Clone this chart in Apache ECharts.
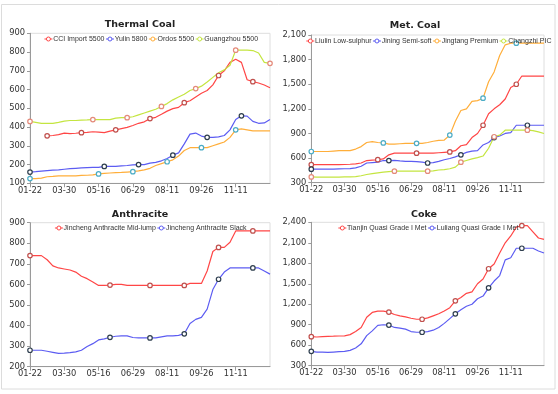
<!DOCTYPE html>
<html><head><meta charset="utf-8">
<script src="https://cdn.jsdelivr.net/npm/echarts@6/dist/echarts.min.js"></script>
<style>html,body{margin:0;padding:0;background:#fff}#c{width:558px;height:394px}</style>
</head><body><div id="c"></div>
<script>
// ---- categories (x axis) ----
const dates = ['01-22','02-02','02-13','02-24','03-08','03-19','03-30','04-07','04-15','04-23','05-01','05-08','05-16','05-23','05-30','06-07','06-14','06-22','06-29','07-06','07-13','07-20','07-28','08-04','08-11','08-19','08-26','09-03','09-11','09-18','09-26','10-04','10-11','10-19','10-27','11-03','11-11','11-18','11-25','12-02','12-09','12-16','12-23'];

// ---- Thermal Coal ----
const cciImport5500 = [null,null,null,353,355,360,368,365,367,370,372,375,373,370,378,385,392,398,408,420,428,445,452,468,485,498,505,530,540,560,580,595,625,675,700,745,762,745,652,642,635,624,610];
const yulin5800 = [160,162,165,168,170,172,175,178,180,182,184,185,185,190,190,190,193,195,198,200,200,208,212,220,232,250,262,310,362,368,352,345,345,348,355,385,440,460,458,430,420,422,440];
const ordos5500 = [125,125,128,135,137,140,140,140,140,142,143,145,150,153,155,157,158,160,162,166,172,180,195,205,215,225,245,275,290,290,290,290,300,310,320,345,385,390,385,380,380,380,380];
const guangzhou5500 = [430,425,420,420,420,425,432,435,435,437,438,440,440,440,440,448,450,450,455,465,475,485,495,510,525,545,560,575,595,605,618,640,665,690,705,730,810,810,810,808,795,745,740];

// ---- Met. Coal ----
const liulinLowSulphur = [520,520,520,520,520,520,522,525,530,540,570,575,580,590,640,660,660,660,660,660,660,660,660,665,670,675,690,750,765,850,900,1000,1140,1200,1250,1320,1460,1500,1600,1600,1600,1600,1600];
const jiningSemiSoft = [465,465,465,465,465,468,470,472,480,500,540,545,550,570,570,572,565,560,560,558,550,540,545,560,580,595,615,640,670,685,690,760,790,850,870,900,910,1000,1000,1000,1000,1000,1000];
const jingtangPremium = [680,680,680,680,685,690,690,690,710,740,790,800,790,785,770,770,775,780,780,780,780,790,805,815,820,880,1050,1180,1200,1290,1300,1330,1530,1650,1850,1980,2000,2000,2000,2000,2000,2000,2000];
const changzhiPIC = [370,368,368,368,368,368,370,372,375,385,400,410,420,428,435,440,440,440,440,440,440,440,445,455,460,470,490,550,570,590,605,625,720,860,880,940,940,940,940,940,935,920,900];

// ---- Anthracite ----
const jinchengMidLump = [740,740,740,720,690,680,675,670,660,640,628,612,595,595,597,600,600,595,595,595,595,595,595,595,595,595,595,595,605,605,605,665,760,780,780,805,860,860,860,860,860,860,860];
const jinchengSlack = [280,280,280,275,270,265,266,268,272,280,298,312,330,335,343,348,350,350,342,340,340,340,340,345,350,350,352,360,410,430,440,480,575,625,660,680,680,680,680,680,680,665,650];

// ---- Coke ----
const tianjinQuasiGradeI = [725,720,725,730,732,735,738,755,800,860,1010,1080,1100,1100,1085,1050,1030,1015,995,980,980,1000,1030,1060,1100,1150,1250,1300,1360,1380,1500,1570,1720,1790,1950,2100,2200,2330,2350,2350,2260,2170,2150];
const luliangQuasiGradeI = [510,500,498,495,500,505,510,525,560,620,740,810,890,900,895,860,850,835,800,790,790,800,820,860,920,990,1060,1120,1170,1200,1280,1320,1440,1540,1620,1850,1880,2020,2020,2020,2020,1980,1950];

// ---- styles ----
const FONT = 'DejaVu Sans', LFONT = 'Liberation Sans';
const RED = '#ff4646', BLUE = '#5c5cf2', ORANGE = '#ffae3a', GREEN = '#c4e540';
const RED_M = '#c0504d', BLUE_M = '#2e3e4e', ORANGE_M = '#4bacc6', GREEN_M = '#e48a7a';
const AX = '#9a9a9a', LBL = '#333', LEG_FS = 7, AX_FS = 8.3, TITLE_FS = 9.5;
const LEG_IW = 8, LEG_GAP = 1, LEG_TXT_SHIFT = 4.3;

const panels = [
  {title:'Thermal Coal', tcx:140, tcy:24, grid:{left:30, top:33.3, width:240, height:150}, y:{min:100,max:900,interval:100}, legTop:35.5,
   series:[
    {name:'CCI Import 5500', data:cciImport5500, c:RED, m:RED_M, marks:[3,9,15,21,27,33,39]},
    {name:'Yulin 5800', data:yulin5800, c:BLUE, m:BLUE_M, marks:[0,13,19,25,31,37]},
    {name:'Ordos 5500', data:ordos5500, c:ORANGE, m:ORANGE_M, marks:[0,12,18,24,30,36]},
    {name:'Guangzhou 5500', data:guangzhou5500, c:GREEN, m:GREEN_M, marks:[0,11,17,23,29,36,42]}]},
  {title:'Met. Coal', tcx:415, tcy:25, grid:{left:311.3, top:35, width:232.7, height:147.7}, y:{min:300,max:2100,interval:300}, legTop:37.5,
   series:[
    {name:'Liulin Low-sulphur', data:liulinLowSulphur, c:RED, m:RED_M, marks:[0,12,19,25,31,37]},
    {name:'Jining Semi-soft', data:jiningSemiSoft, c:BLUE, m:BLUE_M, marks:[0,14,21,27,33,39]},
    {name:'Jingtang Premium', data:jingtangPremium, c:ORANGE, m:ORANGE_M, marks:[0,13,19,25,31,37]},
    {name:'Changzhi PIC', data:changzhiPIC, c:GREEN, m:GREEN_M, marks:[0,15,21,27,33,39]}]},
  {title:'Anthracite', tcx:140, tcy:214, grid:{left:30, top:222.7, width:240, height:144}, y:{min:200,max:900,interval:100}, legTop:224.5,
   series:[
    {name:'Jincheng Anthracite Mid-lump', data:jinchengMidLump, c:RED, m:RED_M, marks:[0,14,21,27,33,39]},
    {name:'Jincheng Anthracite Slack', data:jinchengSlack, c:BLUE, m:BLUE_M, marks:[0,14,21,27,33,39]}]},
  {title:'Coke', tcx:424, tcy:214, grid:{left:311.3, top:222.3, width:232.7, height:143.4}, y:{min:300,max:2400,interval:300}, legTop:224.5,
   series:[
    {name:'Tianjin Quasi Grade I Met', data:tianjinQuasiGradeI, c:RED, m:RED_M, marks:[0,14,20,26,32,38]},
    {name:'Luliang Quasi Grade I Met', data:luliangQuasiGradeI, c:BLUE, m:BLUE_M, marks:[0,14,20,26,32,38]}]}
];

const cv = document.createElement('canvas').getContext('2d');
function tw(text, font){ cv.font = font; return cv.measureText(text).width; }

const option = {animation:false, backgroundColor:'#fff', grid:[], xAxis:[], yAxis:[], title:[], legend:[], series:[],
  graphic:[{type:'rect', shape:{x:1.5, y:4.5, width:553.5, height:384.5}, style:{fill:'none', stroke:'#dcdcdc', lineWidth:1}, silent:true, z:-1}]};

panels.forEach((p, g) => {
  option.grid.push(Object.assign({show:true, borderColor:'#dedede', borderWidth:1, backgroundColor:'#fff'}, p.grid));
  option.xAxis.push({type:'category', gridIndex:g, data:dates, boundaryGap:false,
    axisLine:{lineStyle:{color:AX, width:1}},
    axisTick:{interval:(i) => i % 6 === 0 && i < dates.length - 1, length:4, lineStyle:{color:AX}},
    axisLabel:{interval:5, color:LBL, fontFamily:FONT, fontSize:AX_FS, margin:3.5,
      formatter:(v, i) => i === dates.length - 1 ? '' : v},
    splitLine:{show:false}});
  option.yAxis.push({type:'value', gridIndex:g, min:p.y.min, max:p.y.max, interval:p.y.interval,
    axisLine:{show:true, lineStyle:{color:AX, width:1}},
    axisTick:{show:true, length:3, lineStyle:{color:AX}},
    axisLabel:{color:LBL, fontFamily:FONT, fontSize:AX_FS, margin:5,
      formatter:v => v.toLocaleString('en-US')},
    splitLine:{show:false}});
  const tFont = `bold ${TITLE_FS}px "${FONT}"`;
  option.title.push({text:p.title, left:p.tcx - tw(p.title, tFont)/2, top:p.tcy - TITLE_FS*0.5, padding:0,
    textStyle:{fontFamily:FONT, fontSize:TITLE_FS, fontWeight:'bold', color:'#222'}});
  const lFont = `${LEG_FS}px "${LFONT}"`;
  let lw = 0;
  p.series.forEach((s, k) => { lw += LEG_IW + 5 - LEG_TXT_SHIFT + tw(s.name, lFont) + (k ? LEG_GAP : 0); });
  const cx = p.grid.left + p.grid.width/2;
  option.legend.push({left:cx - lw/2, top:p.legTop, width:600, padding:0, itemGap:LEG_GAP, itemWidth:LEG_IW, itemHeight:5,
    textStyle:{fontFamily:LFONT, fontSize:LEG_FS, color:'#333', padding:[0,0,0,-LEG_TXT_SHIFT]},
    data:p.series.map(s => ({name:s.name, itemStyle:{color:'#fff', borderColor:s.c, borderWidth:1}, lineStyle:{color:s.c, width:1}}))});
  p.series.forEach(s => {
    option.series.push({type:'line', name:s.name, xAxisIndex:g, yAxisIndex:g, symbol:'circle', symbolSize:4.5, showAllSymbol:true,
      lineStyle:{color:s.c, width:1.2}, itemStyle:{color:'#fff', borderColor:s.m, borderWidth:1.2},
      emphasis:{disabled:true}, z:3,
      data:s.data.map((v, i) => ({value:v, symbol: s.marks.includes(i) ? 'circle' : 'none'}))});
  });
});

const chart = echarts.init(document.getElementById('c'), null, {renderer:'canvas'});
chart.setOption(option);
</script></body></html>
